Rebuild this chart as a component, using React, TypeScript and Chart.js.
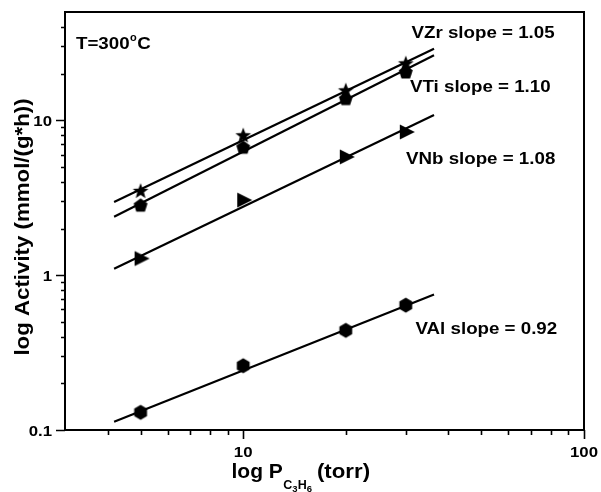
import React, { useEffect, useRef } from 'react';
import { Chart, registerables } from 'chart.js';

Chart.register(...registerables);

// Propylene pressure (torr)
const pressure = [5, 10, 20, 30];
// Activity (mmol/(g*h))
const vzr = [3.5, 8.0, 15.6, 23.3];
const vti = [2.83, 6.7, 13.8, 20.5];
const vnb = [1.28, 3.05, 5.8, 8.4];
const val = [0.13, 0.26, 0.44, 0.64];

// Fitted lines (end points)
const fitRange = [4.18, 36.3];
const vzrFit = [2.97, 29.0];
const vtiFit = [2.38, 26.3];
const vnbFit = [1.1, 10.8];
const valFit = [0.113, 0.75];

const xTickLabels = [10, 100];
const yTickLabels = [0.1, 1, 10];
const xMinorTicks = [4, 5, 6, 7, 8, 9, 20, 30, 40, 50, 60, 70, 80, 90];
const yMinorTicks = [0.2, 0.3, 0.4, 0.5, 0.6, 0.7, 0.8, 0.9, 2, 3, 4, 5, 6, 7, 8, 9, 20, 30, 40];

const annotations = [
  { text: 'VZr slope = 1.05', x: 411.5, y: 38 },
  { text: 'VTi slope = 1.10', x: 410, y: 92 },
  { text: 'VNb slope = 1.08', x: 406, y: 163.5 },
  { text: 'VAl slope = 0.92', x: 415.5, y: 333.5 },
];

const FONT = '"Liberation Sans", Arial, Helvetica, sans-serif';

function makeMarker(kind: string): HTMLCanvasElement {
  const c = document.createElement('canvas');
  c.width = 22;
  c.height = 22;
  const g = c.getContext('2d')!;
  g.translate(11, 11);
  g.fillStyle = '#000';
  g.beginPath();
  if (kind === 'star') {
    const ro = 8.3, ri = 3.5;
    for (let i = 0; i < 10; i++) {
      const r = i % 2 === 0 ? ro : ri;
      const a = -Math.PI / 2 + (i * Math.PI) / 5;
      const px = r * Math.cos(a), py = r * Math.sin(a) + 0.5;
      if (i === 0) g.moveTo(px, py); else g.lineTo(px, py);
    }
  } else if (kind === 'pentagon') {
    const r = 7.3;
    for (let i = 0; i < 5; i++) {
      const a = -Math.PI / 2 + (i * 2 * Math.PI) / 5;
      const px = r * Math.cos(a), py = r * Math.sin(a) + 0.6;
      if (i === 0) g.moveTo(px, py); else g.lineTo(px, py);
    }
  } else if (kind === 'triangle') {
    g.moveTo(-6, -7.5);
    g.lineTo(-6, 7.5);
    g.lineTo(9, 0);
  } else {
    const r = 7.4;
    for (let i = 0; i < 6; i++) {
      const a = -Math.PI / 2 + (i * Math.PI) / 3;
      const px = r * Math.cos(a), py = r * Math.sin(a);
      if (i === 0) g.moveTo(px, py); else g.lineTo(px, py);
    }
  }
  g.closePath();
  g.fill();
  return c;
}

function txt(
  ctx: CanvasRenderingContext2D,
  s: string,
  x: number,
  y: number,
  size: number,
  align: CanvasTextAlign = 'left',
  sx = 1.17,
  baseline: CanvasTextBaseline = 'alphabetic'
): number {
  ctx.save();
  ctx.font = `bold ${size}px ${FONT}`;
  ctx.textAlign = align;
  ctx.textBaseline = baseline;
  ctx.fillStyle = '#000';
  ctx.translate(x, y);
  ctx.scale(sx, 1);
  ctx.fillText(s, 0, 0);
  const w = ctx.measureText(s).width * sx;
  ctx.restore();
  return w;
}

const decorPlugin = {
  id: 'decor',
  afterDraw(chart: any) {
    const ctx: CanvasRenderingContext2D = chart.ctx;
    const xs = chart.scales.x;
    const ys = chart.scales.y;
    const { left, right, top, bottom } = chart.chartArea;
    ctx.save();
    ctx.strokeStyle = '#000';
    // frame
    ctx.lineWidth = 2;
    ctx.strokeRect(left, top, right - left, bottom - top);
    // ticks
    ctx.lineWidth = 1.6;
    ctx.beginPath();
    yMinorTicks.forEach((v) => {
      const py = Math.round(ys.getPixelForValue(v)) + 0.5;
      ctx.moveTo(left - 4, py);
      ctx.lineTo(left, py);
    });
    yTickLabels.forEach((v) => {
      const py = Math.round(ys.getPixelForValue(v)) + 0.5;
      ctx.moveTo(left - 9, py);
      ctx.lineTo(left, py);
    });
    xMinorTicks.forEach((v) => {
      const px = Math.round(xs.getPixelForValue(v)) + 0.5;
      ctx.moveTo(px, bottom);
      ctx.lineTo(px, bottom + 5);
    });
    xTickLabels.forEach((v) => {
      const px = Math.round(xs.getPixelForValue(v)) + 0.5;
      ctx.moveTo(px, bottom);
      ctx.lineTo(px, bottom + 9);
    });
    ctx.stroke();
    ctx.restore();

    // tick labels
    yTickLabels.forEach((v) => {
      txt(ctx, String(v), left - 13, ys.getPixelForValue(v) + 5.5, 15, 'right', 1.12);
    });
    xTickLabels.forEach((v) => {
      txt(ctx, String(v), xs.getPixelForValue(v), bottom + 26.5, 15, 'center', 1.12);
    });

    // x title with subscripts
    let cx = 231.5;
    const base = 478;
    cx += txt(ctx, 'log P', cx, base, 21, 'left', 1.0);
    cx += 0.5;
    cx += txt(ctx, 'C', cx, base + 11, 12.5, 'left', 1.0);
    cx += txt(ctx, '3', cx, base + 14, 9.5, 'left', 1.0);
    cx += txt(ctx, 'H', cx, base + 11, 12.5, 'left', 1.0);
    cx += txt(ctx, '6', cx, base + 14, 9.5, 'left', 1.0);
    cx += 5;
    txt(ctx, '(torr)', cx, base, 21, 'left', 1.06);

    // y title
    ctx.save();
    ctx.translate(29, 227);
    ctx.rotate(-Math.PI / 2);
    txt(ctx, 'log Activity (mmol/(g*h))', 0, 0, 21, 'center', 1.06);
    ctx.restore();

    // temperature label
    let tx = 76;
    tx += txt(ctx, 'T=300', tx, 49, 16, 'left', 1.17);
    tx += 0.5;
    tx += txt(ctx, 'o', tx, 41, 10, 'left', 1.1);
    tx += 0.5;
    txt(ctx, 'C', tx, 49, 16, 'left', 1.17);

    // slope annotations
    annotations.forEach((a) => {
      txt(ctx, a.text, a.x, a.y, 16, 'left', 1.17);
    });
  },
};

function pts(xv: number[], yv: number[]) {
  return xv.map((x, i) => ({ x, y: yv[i] }));
}

export default function App() {
  const ref = useRef<HTMLCanvasElement | null>(null);
  useEffect(() => {
    if (!ref.current) return;
    const star = makeMarker('star');
    const pent = makeMarker('pentagon');
    const tri = makeMarker('triangle');
    const hex = makeMarker('hexagon');
    const lineDs = (label: string, yv: number[]) => ({
      type: 'line' as const,
      label,
      data: pts(fitRange, yv),
      borderColor: '#000',
      borderWidth: 2.2,
      pointRadius: 0,
      showLine: true,
      fill: false,
      order: 2,
    });
    const ptDs = (label: string, yv: number[], style: HTMLCanvasElement) => ({
      type: 'scatter' as const,
      label,
      data: pts(pressure, yv),
      pointStyle: style,
      pointRadius: 8,
      showLine: false,
      order: 1,
    });
    const chart = new Chart(ref.current, {
      type: 'scatter',
      data: {
        datasets: [
          lineDs('VZr fit', vzrFit),
          lineDs('VTi fit', vtiFit),
          lineDs('VNb fit', vnbFit),
          lineDs('VAl fit', valFit),
          ptDs('VZr', vzr, star),
          ptDs('VTi', vti, pent),
          ptDs('VNb', vnb, tri),
          ptDs('VAl', val, hex),
        ] as any,
      },
      options: {
        animation: false,
        responsive: false,
        maintainAspectRatio: false,
        layout: { padding: { left: 65, top: 12, right: 17, bottom: 62 } },
        plugins: { legend: { display: false }, tooltip: { enabled: false } },
        scales: {
          x: { type: 'logarithmic', min: 3, max: 100, display: false },
          y: { type: 'logarithmic', min: 0.1, max: 50, display: false },
        },
      },
      plugins: [decorPlugin],
    });
    return () => chart.destroy();
  }, []);
  return (
    <div style={{ position: 'fixed', left: 0, top: 0, width: 601, height: 492, background: '#fff' }}>
      <canvas ref={ref} width={601} height={492} style={{ display: 'block' }} />
    </div>
  );
}
